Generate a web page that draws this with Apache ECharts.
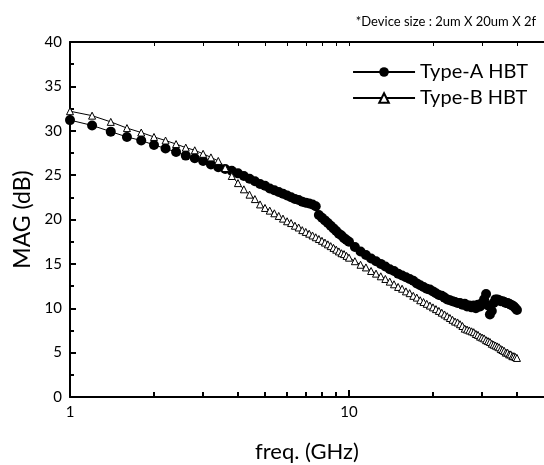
<!DOCTYPE html>
<html>
<head>
<meta charset="utf-8">
<script src="https://cdn.jsdelivr.net/npm/echarts@6/dist/echarts.min.js"></script>
<style>
  html, body { margin: 0; padding: 0; background: #fff; }
  #main { width: 544px; height: 465px; }
</style>
</head>
<body>
<div id="main"></div>
<script>
// frequency points (GHz)
var freq = [1.0, 1.2, 1.4, 1.6, 1.8, 2.0, 2.2, 2.4, 2.6, 2.8, 3.0, 3.2, 3.4, 3.6, 3.8, 4.0, 4.2, 4.4, 4.6, 4.8,
    5.0, 5.2, 5.4, 5.6, 5.8, 6.0, 6.2, 6.4, 6.6, 6.8, 7.0, 7.2, 7.4, 7.6, 7.8, 8.0, 8.2, 8.4, 8.6, 8.8,
    9.0, 9.2, 9.4, 9.6, 9.8, 10.0,
    10.5, 11, 11.5, 12, 12.5, 13, 13.5, 14, 14.5, 15, 15.5, 16, 16.5, 17, 17.5, 18, 18.5, 19, 19.5, 20,
    20.5, 21, 21.5, 22, 22.5, 23, 23.5, 24, 24.5, 25, 25.5, 26, 26.5, 27, 27.5, 28, 28.5, 29, 29.5, 30,
    30.5, 31, 31.5, 32, 32.5, 33, 33.5, 34, 34.5, 35, 35.5, 36, 36.5, 37, 37.5, 38, 38.5, 39, 39.5, 40];

// MAG (dB), Type-A HBT
var magA = [31.2, 30.6, 29.9, 29.3, 28.9, 28.4, 28.0, 27.6, 27.2, 26.9, 26.6, 26.2, 25.9, 25.7,
    25.5, 25.2, 24.9, 24.6, 24.3, 24.0, 23.8, 23.5, 23.3, 23.1, 22.9, 22.7, 22.5, 22.3, 22.2, 22.0, 21.9, 21.8, 21.7, 21.5,
    20.5, 20.2, 19.9, 19.6, 19.3, 19.0, 18.7, 18.4, 18.2, 17.9, 17.7, 17.5,
    16.9, 16.4, 16.0, 15.6, 15.3, 15.0, 14.7, 14.4, 14.2, 13.9,
    13.7, 13.5, 13.3, 13.1, 12.8, 12.6, 12.4, 12.2, 12.1, 11.9,
    11.7, 11.5, 11.4, 11.2, 11.0, 10.9, 10.8, 10.7, 10.6, 10.6,
    10.4, 10.5, 10.2, 10.3, 10.1, 10.3, 10.0, 10.4, 10.2, 10.6,
    11.0, 11.6, 10.3, 9.3, 9.7, 10.6, 11.0, 11.0, 10.9, 10.8,
    10.8, 10.7, 10.6, 10.6, 10.5, 10.4, 10.3, 10.2, 10.0, 9.8];

// MAG (dB), Type-B HBT
var magB = [32.2, 31.7, 31.0, 30.3, 29.8, 29.3, 28.9, 28.5, 28.1, 27.8, 27.4, 27.0, 26.6, 25.8,
    24.9, 24.1, 23.4, 22.8, 22.3, 21.7, 21.3, 21.0, 20.7, 20.4, 20.1, 19.8, 19.6, 19.3, 19.1, 18.8, 18.6, 18.4, 18.2, 18.0,
    17.8, 17.6, 17.4, 17.2, 17.0, 16.8, 16.6, 16.4, 16.2, 16.1, 15.9, 15.7,
    15.3, 14.9, 14.6, 14.2, 13.9, 13.6, 13.3, 13.0, 12.7, 12.4,
    12.2, 11.9, 11.7, 11.4, 11.2, 10.9, 10.7, 10.5, 10.3, 10.1,
    9.9, 9.7, 9.5, 9.3, 9.1, 8.9, 8.7, 8.5, 8.4, 8.2,
    8.0, 7.7, 7.6, 7.5, 7.4, 7.3, 7.1, 7.0, 6.8, 6.7,
    6.6, 6.4, 6.3, 6.2, 6.0, 5.9, 5.8, 5.7, 5.6, 5.4,
    5.3, 5.2, 5.0, 5.0, 4.8, 4.8, 4.6, 4.6, 4.5, 4.4];

// tick positions on the log frequency axis (GHz)
var xMajor = [1, 10];
var xMinor = [2, 3, 4, 5, 6, 7, 8, 9, 20, 30, 40];
var xAll = [1, 2, 3, 4, 5, 6, 7, 8, 9, 10, 20, 30, 40];
var xMin = 1, xMax = 50;

var font = 'Lato';

function pairs(ys) {
    return freq.map(function (f, i) { return [f, ys[i]]; });
}

// extra log axis on the same grid that only carries tick marks
function tickAxis(pos, ticks, len, width, showLine) {
    return {
        type: 'log',
        logBase: 10,
        min: xMin,
        max: xMax,
        position: pos,
        axisLine: { show: showLine, onZero: false, lineStyle: { color: '#000', width: 2 } },
        axisTick: { show: true, inside: true, length: len, customValues: ticks,
            lineStyle: { color: '#000', width: width } },
        axisLabel: { show: false },
        splitLine: { show: false }
    };
}

var myChart = echarts.init(document.getElementById('main'));
myChart.setOption({
    animation: false,
    backgroundColor: '#fff',
    textStyle: { fontFamily: font, color: '#000' },
    title: {
        text: '*Device size : 2um X 20um X 2f',
        right: 3,
        top: 10,
        textStyle: { fontFamily: font, fontSize: 13, fontWeight: 'normal', color: '#000' }
    },
    legend: {
        orient: 'vertical',
        right: 11,
        top: 57,
        itemWidth: 62,
        itemHeight: 12,
        itemGap: 6,
        textStyle: { fontFamily: font, fontSize: 20, color: '#000' },
        data: ['Type-A HBT', 'Type-B HBT']
    },
    grid: { left: 70, right: 0, top: 42, bottom: 68, outerBoundsMode: 'none' },
    xAxis: [{
        type: 'log',
        logBase: 10,
        min: xMin,
        max: xMax,
        position: 'bottom',
        name: 'freq. (GHz)',
        nameLocation: 'middle',
        nameGap: 44,
        nameTextStyle: { fontFamily: font, fontSize: 22, color: '#000' },
        axisLine: { onZero: false, lineStyle: { color: '#000', width: 2 } },
        axisTick: { show: true, inside: true, length: 7, customValues: xMajor, lineStyle: { color: '#000', width: 2 } },
        axisLabel: { customValues: xMajor, fontFamily: font, fontSize: 15, color: '#000', margin: 8 },
        splitLine: { show: false }
    },
    tickAxis('bottom', xMinor, 5, 2, false),
    tickAxis('top', xAll, 4, 1, true)
    ],
    yAxis: {
        type: 'value',
        min: 0,
        max: 40,
        interval: 5,
        name: 'MAG (dB)',
        nameLocation: 'middle',
        nameGap: 32,
        nameTextStyle: { fontFamily: font, fontSize: 23, color: '#000' },
        axisLine: { show: true, lineStyle: { color: '#000', width: 2 } },
        axisTick: { inside: true, length: 6, lineStyle: { color: '#000', width: 2 } },
        minorTick: { show: true, splitNumber: 2, length: 4, lineStyle: { color: '#000', width: 2 } },
        axisLabel: { fontFamily: font, fontSize: 15, color: '#000', margin: 8 },
        splitLine: { show: false }
    },
    series: [{
        name: 'Type-A HBT',
        type: 'line',
        xAxisIndex: 0,
        data: pairs(magA),
        symbol: 'circle',
        symbolSize: 10,
        itemStyle: { color: '#000' },
        lineStyle: { color: '#000', width: 1 }
    }, {
        name: 'Type-B HBT',
        type: 'line',
        xAxisIndex: 0,
        data: pairs(magB),
        symbol: 'triangle',
        symbolSize: 7,
        itemStyle: { color: '#fff', borderColor: '#000', borderWidth: 1 },
        lineStyle: { color: '#000', width: 1 }
    }]
});
</script>
</body>
</html>
